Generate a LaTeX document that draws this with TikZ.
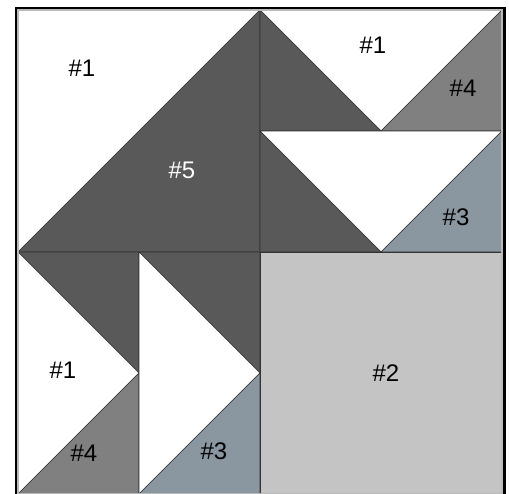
\documentclass[tikz,border=0pt]{standalone}
\usepackage{fontspec}
\setmainfont{Liberation Sans}
\definecolor{quiltdark}{HTML}{595959}
\definecolor{quiltgray}{HTML}{808080}
\definecolor{quiltslate}{HTML}{8A97A1}
\definecolor{quiltlight}{HTML}{C4C4C4}
\begin{document}
\begin{tikzpicture}[x=1pt,y=-1pt,font=\fontsize{24}{28}\selectfont,
    piece/.style={draw=black!80,line width=.6pt},
    tag/.style={inner sep=0pt}]
  \clip (0,0) rectangle (509,493);
  \fill[white] (0,0) rectangle (509,493);
  \draw[line width=2.6pt] (16.3,8.3) rectangle (504.7,500);

  % top left half-square
  \draw[piece,fill=white] (18,10) -- (260,10) -- (18,252) -- cycle;
  \draw[piece,fill=quiltdark] (18,252) -- (260,10) -- (260,252) -- cycle;
  \node[tag] (tlone) at (82,68) {\#1};
  \node[tag,text=white] (tlfive) at (182,170) {\#5};

  % top right geese
  \draw[piece,fill=white] (260,10) -- (502,10) -- (381,131) -- cycle;
  \draw[piece,fill=quiltdark] (260,10) -- (381,131) -- (260,131) -- cycle;
  \draw[piece,fill=quiltgray] (502,10) -- (502,131) -- (381,131) -- cycle;
  \draw[piece,fill=white] (260,131) -- (502,131) -- (381,252) -- cycle;
  \draw[piece,fill=quiltdark] (260,131) -- (381,252) -- (260,252) -- cycle;
  \draw[piece,fill=quiltslate] (502,131) -- (502,252) -- (381,252) -- cycle;
  \node[tag] (trone) at (373,45) {\#1};
  \node[tag] (trfour) at (463,88) {\#4};
  \node[tag] (trthree) at (456,217) {\#3};

  % bottom left geese
  \draw[piece,fill=quiltdark] (18,252) -- (139,252) -- (139,373) -- cycle;
  \draw[piece,fill=white] (18,252) -- (139,373) -- (18,494) -- cycle;
  \draw[piece,fill=quiltgray] (139,373) -- (139,494) -- (18,494) -- cycle;
  \draw[piece,fill=quiltdark] (139,252) -- (260,252) -- (260,373) -- cycle;
  \draw[piece,fill=white] (139,252) -- (260,373) -- (139,494) -- cycle;
  \draw[piece,fill=quiltslate] (260,373) -- (260,494) -- (139,494) -- cycle;
  \node[tag] (blone) at (63,370) {\#1};
  \node[tag] (blfour) at (84,453) {\#4};
  \node[tag] (blthree) at (214,451) {\#3};

  % bottom right square
  \draw[piece,fill=quiltlight] (260,252) rectangle (502,494);
  \node[tag] (brtwo) at (386,373) {\#2};

  \draw[gray!55,line width=1.2pt] (18,10) rectangle (502,494);
\end{tikzpicture}
\end{document}
